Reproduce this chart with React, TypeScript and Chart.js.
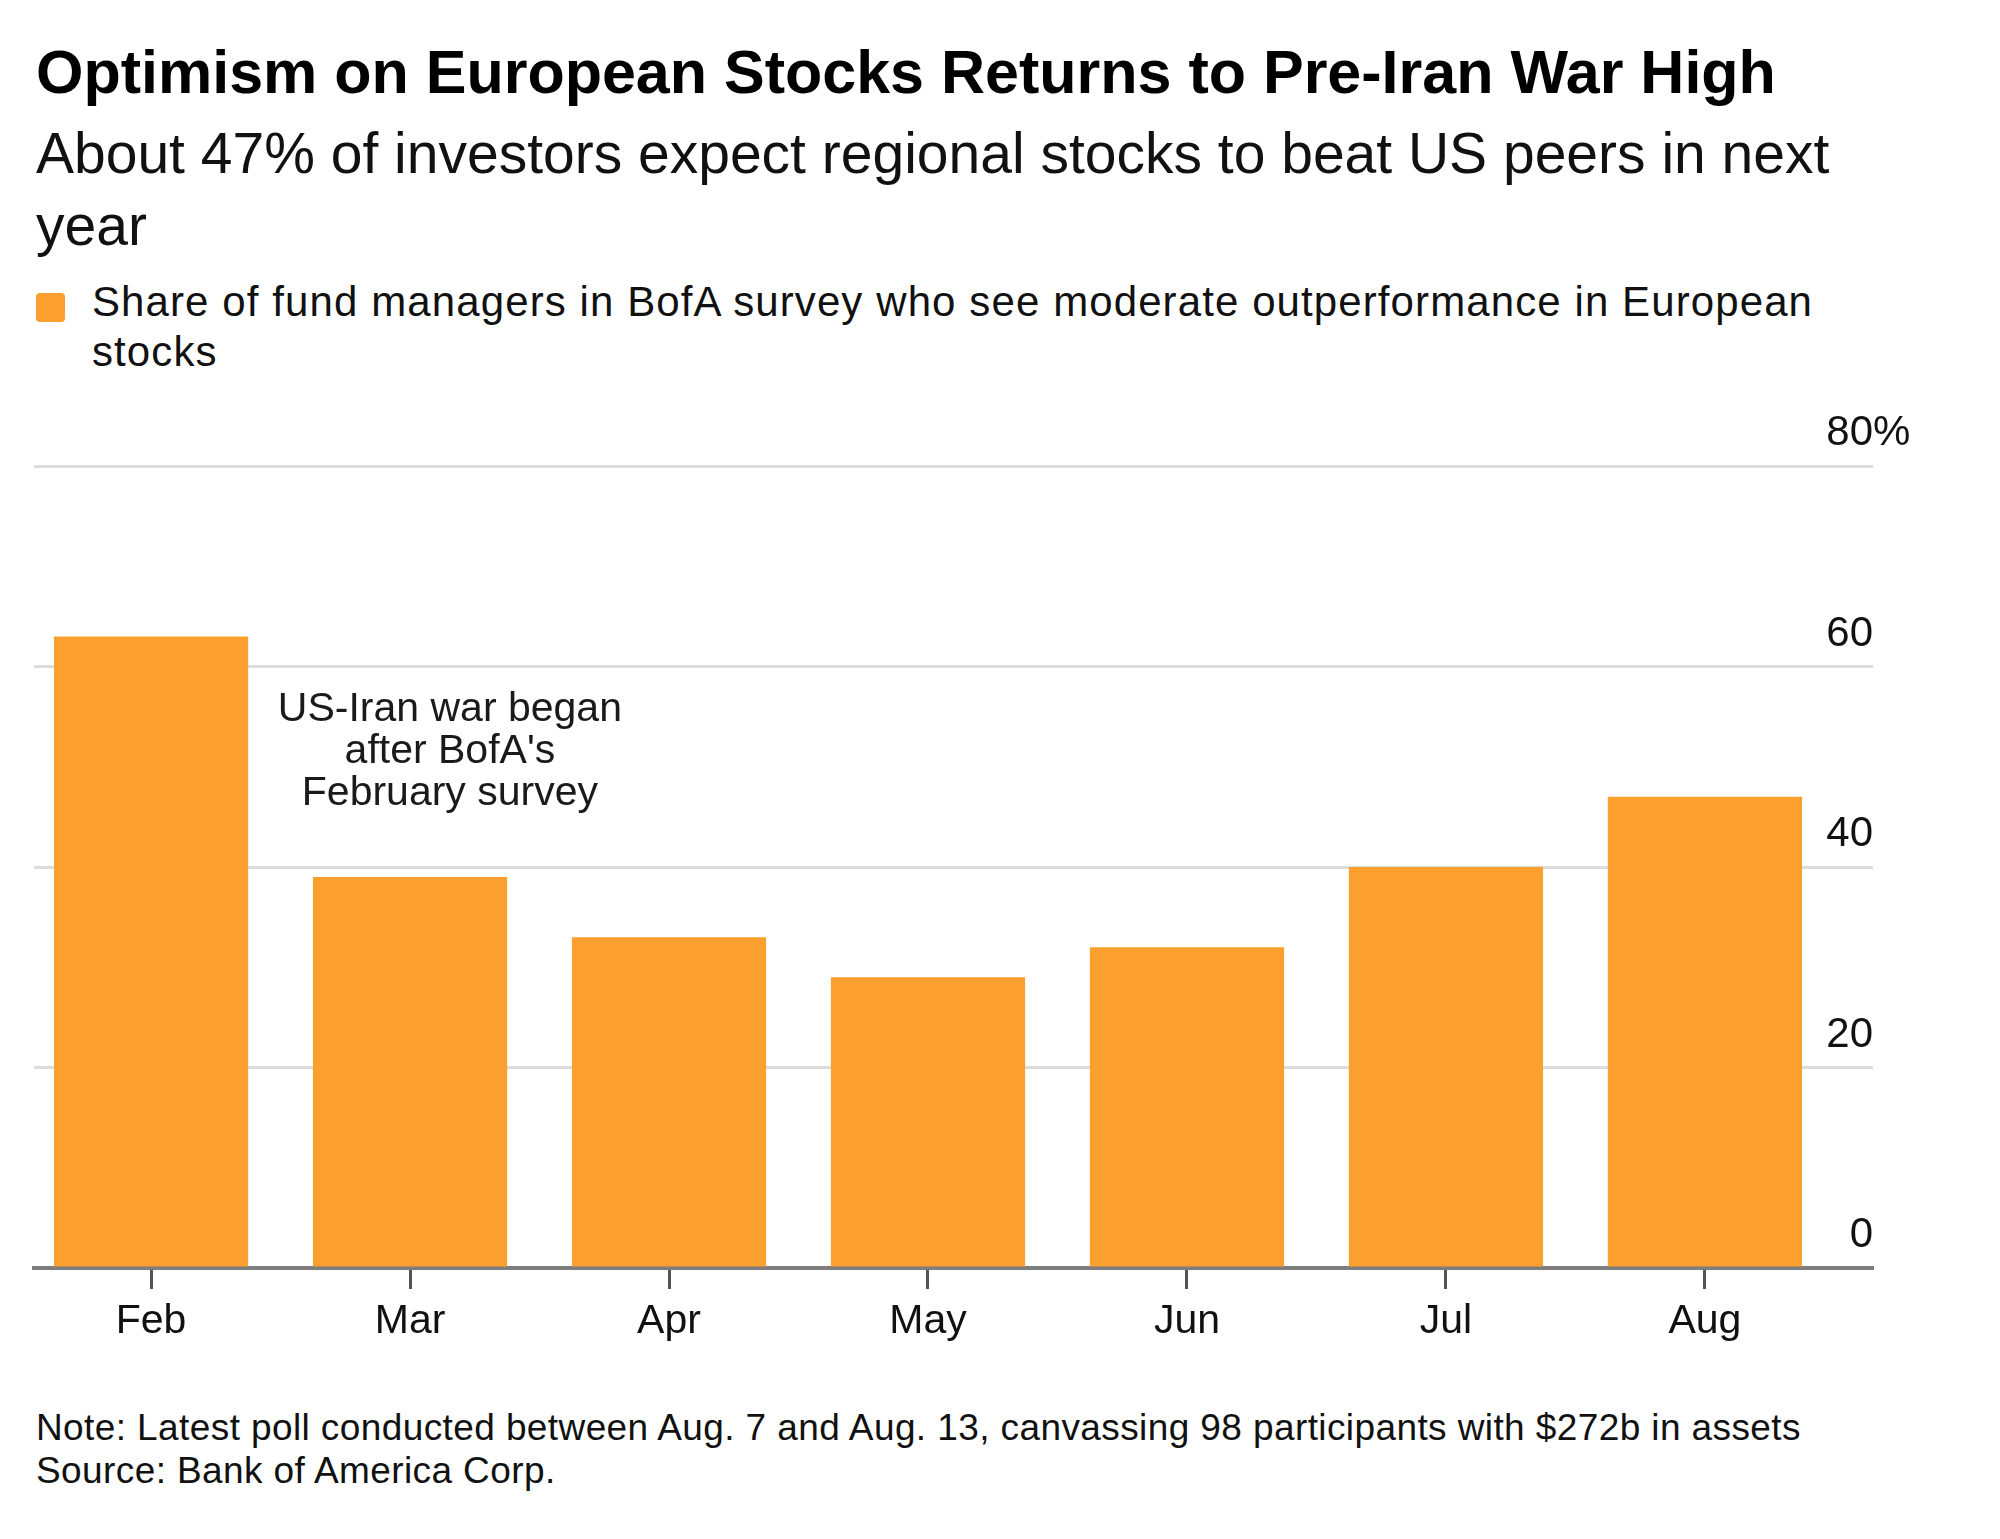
import React, { useEffect, useRef } from "react";
import { Chart, registerables } from "chart.js";

Chart.register(...registerables);

const months = ["Feb", "Mar", "Apr", "May", "Jun", "Jul", "Aug"];
const shareOutperform = [63, 39, 33, 29, 32, 40, 47];
const yTicks = [0, 20, 40, 60, 80];
const noteLines = ["US-Iran war began", "after BofA's", "February survey"];
// annotation anchor in data units (x index, y value of first baseline)
const noteAt = { x: 1.154, y: 54.6 };

const FONT = '"Liberation Sans", Arial, Helvetica, sans-serif';
const ORANGE = "#FBA02E";

const yLabelPlugin = {
  id: "yLabels",
  afterDatasetsDraw(chart: any) {
    const { ctx, chartArea, scales } = chart;
    const y = scales.y;
    ctx.save();
    ctx.font = `42px ${FONT}`;
    ctx.fillStyle = "#111";
    ctx.textBaseline = "alphabetic";
    yTicks.forEach((v) => {
      const py = y.getPixelForValue(v) - 21;
      ctx.textAlign = "right";
      ctx.fillText(String(v), chartArea.right, py);
      if (v === yTicks[yTicks.length - 1]) {
        ctx.textAlign = "left";
        ctx.fillText("%", chartArea.right, py);
      }
    });
    ctx.restore();
  },
};

const notePlugin = {
  id: "note",
  afterDatasetsDraw(chart: any) {
    const { ctx, scales } = chart;
    const px = scales.x.getPixelForValue(noteAt.x);
    const py = scales.y.getPixelForValue(noteAt.y);
    ctx.save();
    ctx.font = `41px ${FONT}`;
    ctx.fillStyle = "#1a1a1a";
    ctx.textAlign = "center";
    ctx.textBaseline = "alphabetic";
    noteLines.forEach((line, i) => ctx.fillText(line, px, py + i * 42));
    ctx.restore();
  },
};

const BarChart: React.FC = () => {
  const chartRef = useRef<HTMLCanvasElement>(null);

  useEffect(() => {
    if (!chartRef.current) return;
    Chart.defaults.font.family = FONT;
    const chart = new Chart(chartRef.current, {
      type: "bar",
      data: {
        datasets: [
          {
            data: shareOutperform.map((v, i) => ({ x: i, y: v })),
            backgroundColor: ORANGE,
            borderWidth: 0,
            categoryPercentage: 1,
            barPercentage: 0.75,
          },
        ],
      },
      options: {
        animation: false,
        responsive: false,
        devicePixelRatio: 1,
        layout: { padding: { top: 66, left: 34, right: 127, bottom: 0 } },
        plugins: { legend: { display: false }, tooltip: { enabled: false } },
        scales: {
          x: {
            type: "linear",
            min: -0.452,
            max: 6.649,
            offset: false,
            z: 1,
            afterFit: (s: any) => {
              s.height = 110;
            },
            grid: {
              offset: false,
              drawOnChartArea: false,
              drawTicks: true,
              tickLength: 21,
              tickWidth: 3,
              tickColor: "#555",
            },
            border: { display: true, color: "#7d7d7d", width: 4 },
            ticks: {
              stepSize: 1,
              includeBounds: false,
              autoSkip: false,
              maxRotation: 0,
              padding: 8,
              color: "#111",
              font: { size: 41 },
              callback: (v: any) => months[v] ?? "",
            },
          },
          y: {
            position: "right",
            min: 0,
            max: 80,
            afterFit: (s: any) => {
              s.width = 0;
            },
            grid: { color: "#dcdcdc", lineWidth: 3, drawTicks: false },
            border: { display: false },
            ticks: { stepSize: 20, display: false },
          },
        },
      } as any,
      plugins: [yLabelPlugin, notePlugin],
    });
    return () => chart.destroy();
  }, []);

  return (
    <canvas
      ref={chartRef}
      width={2000}
      height={978}
      style={{ position: "absolute", left: 0, top: 400, width: 2000, height: 978 }}
    />
  );
};

const App: React.FC = () => {
  useEffect(() => {
    document.body.style.margin = "0";
  }, []);

  const base: React.CSSProperties = {
    position: "absolute",
    left: 36,
    whiteSpace: "nowrap",
    fontFamily: FONT,
  };

  return (
    <div style={{ position: "relative", width: 2000, height: 1539, background: "#fff" }}>
      <div style={{ ...base, top: 36, fontSize: 61, lineHeight: "72px", fontWeight: 700, color: "#000" }}>
        Optimism on European Stocks Returns to Pre-Iran War High
      </div>
      <div style={{ ...base, top: 117, fontSize: 57, lineHeight: "72px", color: "#111" }}>
        About 47% of investors expect regional stocks to beat US peers in next
        <br />
        year
      </div>
      <div
        style={{
          position: "absolute",
          left: 36,
          top: 293,
          width: 29,
          height: 29,
          borderRadius: 4,
          background: ORANGE,
        }}
      />
      <div
        style={{
          ...base,
          left: 92,
          top: 277,
          fontSize: 42,
          letterSpacing: "1.1px",
          lineHeight: "50px",
          color: "#111",
        }}
      >
        Share of fund managers in BofA survey who see moderate outperformance in European
        <br />
        stocks
      </div>
      <BarChart />
      <div
        style={{
          ...base,
          top: 1406,
          fontSize: 37,
          letterSpacing: "0.4px",
          lineHeight: "43px",
          color: "#111",
        }}
      >
        Note: Latest poll conducted between Aug. 7 and Aug. 13, canvassing 98 participants with $272b in assets
        <br />
        Source: Bank of America Corp.
      </div>
    </div>
  );
};

export default App;
